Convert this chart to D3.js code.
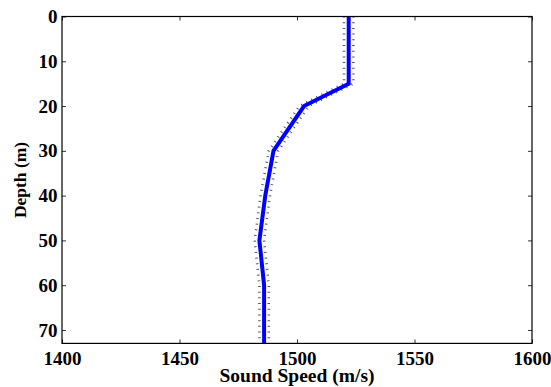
<!DOCTYPE html>
<html>
<head>
<meta charset="utf-8">
<script src="https://cdn.jsdelivr.net/npm/d3@7"></script>
<style>
  html, body { margin: 0; padding: 0; background: #fff; }
  svg { display: block; }
  text { font-family: "Liberation Serif", "Tinos", "Times New Roman", "DejaVu Serif", serif; font-weight: bold; fill: #000; }
</style>
</head>
<body>
<svg id="chart" width="551" height="387"></svg>
<script>
// Data
const depths = [0, 15, 20, 30, 40, 50, 60, 73];
const soundSpeed = [1522, 1522, 1503, 1490, 1486.5, 1484, 1486, 1486];
const speedSpread = 2; // half-width of dotted uncertainty band (m/s)
const xTicks = [1400, 1450, 1500, 1550, 1600];
const yTicks = [0, 10, 20, 30, 40, 50, 60, 70];
const xLabel = "Sound Speed (m/s)";
const yLabel = "Depth (m)";

(function () {
const FONT = '"Liberation Serif", "Tinos", "Times New Roman", "DejaVu Serif", serif';
const svg = d3.select("#chart");
const pL = 62, pR = 532, pT = 16.5, pB = 343.4;

const x = d3.scaleLinear().domain([1400, 1600]).range([pL, pR]);
const y = d3.scaleLinear().domain([0, 73]).range([pT, pB]);

const pts = depths.map((d, i) => ({ d, s: soundSpeed[i] }));

const line = off => d3.line().x(p => x(p.s + off)).y(p => y(p.d));

svg.append("defs").append("clipPath").attr("id", "clip")
  .append("rect").attr("x", pL).attr("y", pT).attr("width", pR - pL).attr("height", pB - pT);

const g = svg.append("g").attr("clip-path", "url(#clip)");
[-speedSpread, speedSpread].forEach(off => {
  g.append("path").datum(pts).attr("d", line(off))
    .attr("fill", "none").attr("stroke", "#555").attr("stroke-width", 2.6)
    .attr("stroke-dasharray", "1 4.7");
});
g.append("path").datum(pts).attr("d", line(0))
  .attr("fill", "none").attr("stroke", "#0000ff").attr("stroke-width", 4)
  .attr("stroke-linejoin", "miter");

// Axes (ticks inward, mirrored)
const tickLen = 4;
const axB = svg.append("g").attr("transform", `translate(0,${pB})`)
  .call(d3.axisBottom(x).tickValues(xTicks).tickSize(-tickLen).tickPadding(8).tickFormat(d3.format("d")));
const axT = svg.append("g").attr("transform", `translate(0,${pT})`)
  .call(d3.axisTop(x).tickValues(xTicks).tickSize(-tickLen).tickFormat(""));
const axL = svg.append("g").attr("transform", `translate(${pL},0)`)
  .call(d3.axisLeft(y).tickValues(yTicks).tickSize(-tickLen).tickPadding(4.5).tickFormat(d3.format("d")));
const axR = svg.append("g").attr("transform", `translate(${pR},0)`)
  .call(d3.axisRight(y).tickValues(yTicks).tickSize(-tickLen).tickFormat(""));

[axB, axT, axL, axR].forEach(a => {
  a.select(".domain").remove();
  a.attr("font-family", null).attr("font-size", null);
  a.selectAll(".tick line").attr("stroke", "#333").attr("stroke-width", 1);
  a.selectAll("text").style("font-size", "19px")
    .style("font-family", FONT).style("font-weight", "bold");
});
axB.selectAll(".tick text").attr("dy", "0.71em");

// frame
svg.append("rect").attr("x", pL).attr("y", pT).attr("width", pR - pL).attr("height", pB - pT)
  .attr("fill", "none").attr("stroke", "#000").attr("stroke-width", 1.2);

svg.append("text").attr("x", (pL + pR) / 2).attr("y", 382)
  .attr("text-anchor", "middle").style("font-family", FONT).style("font-size", "19.5px").text(xLabel);
svg.append("text").attr("transform", `translate(26,${(pT + pB) / 2}) rotate(-90)`)
  .attr("text-anchor", "middle").style("font-family", FONT).style("font-size", "17.5px").text(yLabel);
})();
</script>
</body>
</html>
